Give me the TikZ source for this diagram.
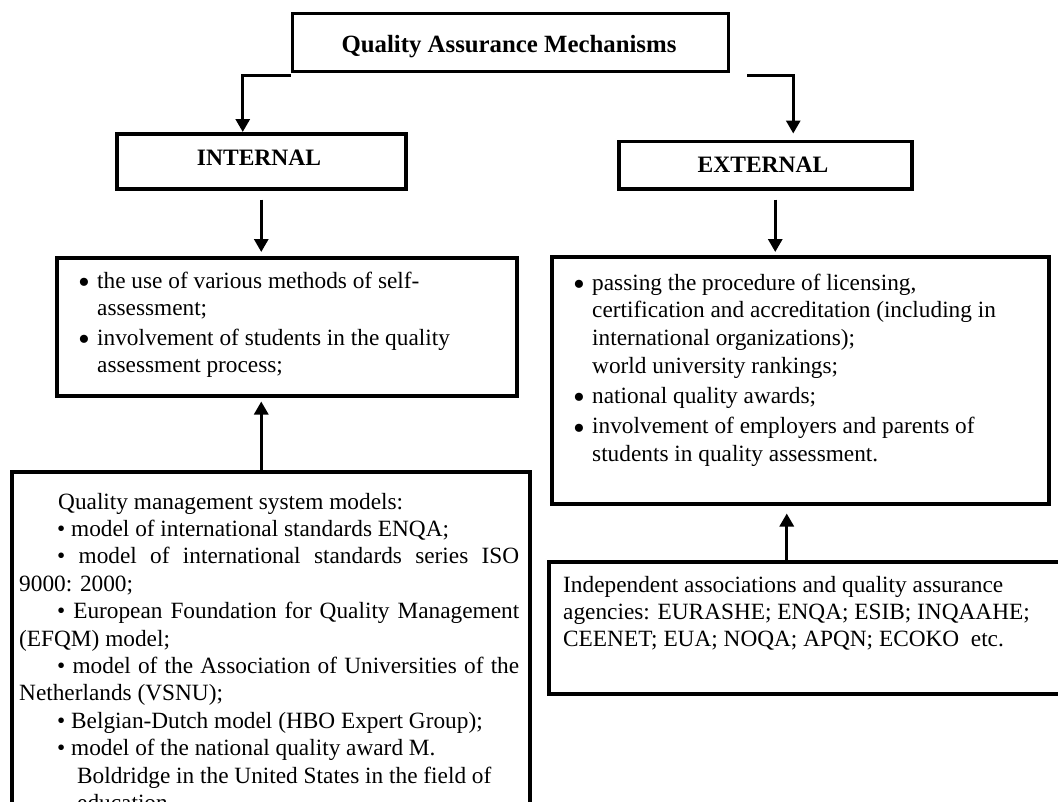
\documentclass[tikz,border=0pt]{standalone}
\usepackage{fontspec}
\setmainfont{Liberation Serif}
\usetikzlibrary{arrows.meta,calc}
\newcommand{\lbul}{\makebox[19pt][l]{\raisebox{-5.5pt}[0pt][0pt]{\scalebox{1.45}{•}}}}
\begin{document}
\begin{tikzpicture}[x=1pt,y=-1pt,
  box/.style={draw, line width=3.5pt, inner sep=0pt, anchor=north west},
  conn/.style={line width=3pt, -{Triangle[length=13pt,width=14pt]}},
  head/.style={font=\fontsize{23.5}{27}\selectfont\bfseries, inner sep=0pt, anchor=base},
  body/.style={font=\fontsize{23.3}{27}\selectfont, inner sep=0pt, anchor=base west}
]
\useasboundingbox (0,0) rectangle (1058,801);
\clip (0,0) rectangle (1058,801);

% boxes
\node[box, minimum width=436pt, minimum height=58pt] (title) at (290.5,11.5) {};
\node[box, minimum width=289pt, minimum height=55pt] (internal) at (115,132) {};
\node[box, minimum width=293pt, minimum height=47.5pt] (external) at (617,139.5) {};
\node[box, minimum width=460pt, minimum height=138pt] (ilist) at (55,256) {};
\node[box, minimum width=497pt, minimum height=247pt] (elist) at (550,255) {};
\node[box, minimum width=518pt, minimum height=380pt] (models) at (10,470) {};
\node[box, minimum width=520pt, minimum height=132pt] (agencies) at (547,560) {};

% headings
\node[head, font=\fontsize{24.8}{27}\selectfont\bfseries] (titletext) at (509,52.5) {Quality Assurance Mechanisms};
\node[head] (internaltext) at (259,165) {INTERNAL};
\node[head] (externaltext) at (763,172) {EXTERNAL};

% internal list
\node[body] (ilisttext) at (78,288) {\vtop{\baselineskip=27pt
  \hbox{\lbul the use of various methods of self-}
  \hbox{\hspace*{19pt}assessment;}
  \vskip3pt
  \hbox{\lbul involvement of students in the quality}
  \hbox{\hspace*{19pt}assessment process;}}};

% external list
\node[body] (elisttext) at (573,290) {\vtop{\baselineskip=27.7pt
  \hbox{\lbul passing the procedure of licensing,}
  \hbox{\hspace*{19pt}certification and accreditation (including in}
  \hbox{\hspace*{19pt}international organizations);}
  \hbox{\hspace*{19pt}world university rankings;}
  \vskip2.5pt
  \hbox{\lbul national quality awards;}
  \vskip2.5pt
  \hbox{\lbul involvement of employers and parents of}
  \hbox{\hspace*{19pt}students in quality assessment.}}};

% agencies
\node[body] (agenciestext) at (563,592) {\vtop{\baselineskip=27pt
  \hbox{Independent associations and quality assurance}
  \hbox{agencies: EURASHE; ENQA; ESIB; INQAAHE;}
  \hbox{CEENET; EUA; NOQA; APQN; ECOKO\ \ etc.}}};

% models
\node[body] (modelstext) at (19,509) {\vtop{\hsize=500pt\baselineskip=27.4pt
  \hbox{\hspace*{39pt}Quality management system models:}
  \hbox{\hspace*{38pt}• model of international standards ENQA;}
  \hbox to 500pt{\hspace*{38pt}• model of international standards series ISO}
  \hbox{9000: 2000;}
  \hbox to 500pt{\hspace*{38pt}• European Foundation for Quality Management}
  \hbox{(EFQM) model;}
  \hbox to 500pt{\hspace*{38pt}• model of the Association of Universities of the}
  \hbox{Netherlands (VSNU);}
  \hbox{\hspace*{38pt}• Belgian-Dutch model (HBO Expert Group);}
  \hbox{\hspace*{38pt}• model of the national quality award M.}
  \hbox{\hspace*{58pt}Boldridge in the United States in the field of}
  \hbox{\hspace*{58pt}education}}};

% connectors
\draw[conn] ($(title.south west)+(0,2)$) -| ($(internal.north)+(-18.5,0)$);
\draw[conn] ($(title.south east)+(17,2.5)$) -| ($(external.north)+(28,-6)$);
\draw[conn] ($(internal.south)+(0,9)$) -- ($(internal.south |- ilist.north)+(0,-4)$);
\draw[conn] ($(external.south)+(10,9)$) -- ($(external.south |- elist.north)+(10,-3)$);
\draw[conn] (internal.south |- models.north) -- ($(internal.south |- ilist.south)+(0,4)$);
\draw[conn] ($(agencies.north)+(-22,0)$) -- ($(agencies.north |- elist.south)+(-22,8)$);
\end{tikzpicture}
\end{document}
